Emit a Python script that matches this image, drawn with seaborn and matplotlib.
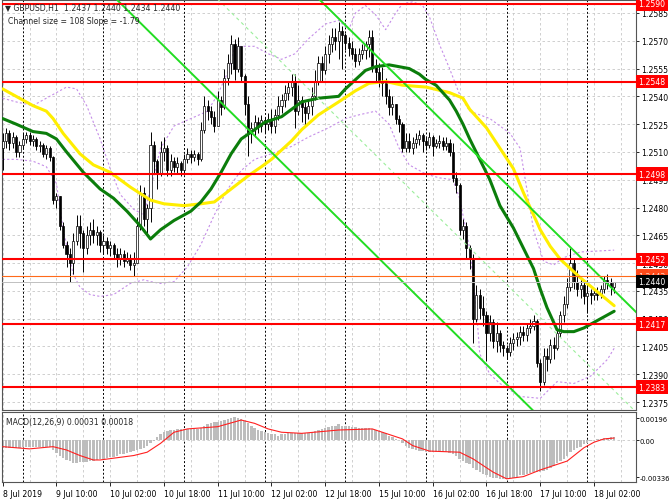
import numpy as np
import pandas as pd
import seaborn as sns
import matplotlib.pyplot as plt
import matplotlib.transforms as mtransforms

sns.set_theme(style="white")
plt.rcParams["font.family"] = ["DejaVu Sans"]

# GBPUSD H1 candles, 8 Jul 2019 18:00 -> 18 Jul 2019 08:00
first_open = 1.2512
close = [1.2516, 1.2520, 1.2515, 1.2518, 1.2510, 1.2514, 1.2517, 1.2519, 1.2516, 1.2517,
         1.2513, 1.2514, 1.2509, 1.2512, 1.2507, 1.2484, 1.2486, 1.2470, 1.2460, 1.2455,
         1.2450, 1.2462, 1.2470, 1.2466, 1.2458, 1.2465, 1.2468, 1.2465, 1.2467, 1.2460,
         1.2462, 1.2458, 1.2460, 1.2455, 1.2452, 1.2455, 1.2451, 1.2453, 1.2449, 1.2450,
         1.2470, 1.2488, 1.2474, 1.2480, 1.2514, 1.2505, 1.2498, 1.2510, 1.2512, 1.2500,
         1.2505, 1.2502, 1.2504, 1.2500, 1.2506, 1.2509, 1.2507, 1.2509, 1.2506, 1.2522,
         1.2535, 1.2532, 1.2529, 1.2524, 1.2538, 1.2534, 1.2550, 1.2558, 1.2568, 1.2555,
         1.2567, 1.2551, 1.2536, 1.2520, 1.2523, 1.2526, 1.2524, 1.2527, 1.2525, 1.2528,
         1.2524, 1.2530, 1.2535, 1.2538, 1.2542, 1.2545, 1.2548, 1.2532, 1.2538, 1.2534,
         1.2531, 1.2535, 1.2540, 1.2548, 1.2558, 1.2554, 1.2563, 1.2568, 1.2572, 1.2570,
         1.2575, 1.2573, 1.2569, 1.2566, 1.2563, 1.2559, 1.2563, 1.2565, 1.2568, 1.2572,
         1.2556, 1.2553, 1.2548, 1.2547, 1.2540, 1.2534, 1.2536, 1.2528, 1.2525, 1.2512,
         1.2516, 1.2512, 1.2515, 1.2517, 1.2519, 1.2516, 1.2514, 1.2518, 1.2513, 1.2515,
         1.2516, 1.2513, 1.2515, 1.2510, 1.2496, 1.2492, 1.2468, 1.2470, 1.2458, 1.2452,
         1.2420, 1.2433, 1.2426, 1.2422, 1.2412, 1.2418, 1.2408, 1.2412, 1.2406, 1.2404,
         1.2402, 1.2407, 1.2409, 1.2410, 1.2413, 1.2411, 1.2415, 1.2416, 1.2419, 1.2396,
         1.2386, 1.2400, 1.2398, 1.2406, 1.2404, 1.2412, 1.2422, 1.2428, 1.2437, 1.2450,
         1.2440, 1.2436, 1.2438, 1.2432, 1.2434, 1.2433, 1.2434, 1.2433, 1.2436, 1.2441,
         1.2439, 1.2437, 1.2440]
high = [1.2520, 1.2523, 1.2522, 1.2521, 1.2519, 1.2516, 1.2520, 1.2521, 1.2521, 1.2519,
        1.2518, 1.2516, 1.2515, 1.2514, 1.2513, 1.2508, 1.2488, 1.2486, 1.2472, 1.2462,
        1.2458, 1.2466, 1.2476, 1.2476, 1.2468, 1.2470, 1.2472, 1.2474, 1.2470, 1.2468,
        1.2465, 1.2464, 1.2462, 1.2461, 1.2458, 1.2458, 1.2457, 1.2456, 1.2455, 1.2456,
        1.2475, 1.2492, 1.2491, 1.2482, 1.2521, 1.2516, 1.2506, 1.2516, 1.2518, 1.2514,
        1.2509, 1.2507, 1.2507, 1.2505, 1.2509, 1.2512, 1.2511, 1.2511, 1.2510, 1.2526,
        1.2540, 1.2538, 1.2535, 1.2532, 1.2543, 1.2540, 1.2555, 1.2563, 1.2573, 1.2571,
        1.2572, 1.2560, 1.2552, 1.2540, 1.2526, 1.2530, 1.2529, 1.2530, 1.2529, 1.2531,
        1.2533, 1.2533, 1.2540, 1.2541, 1.2546, 1.2548, 1.2552, 1.2552, 1.2546, 1.2540,
        1.2537, 1.2538, 1.2545, 1.2554, 1.2562, 1.2562, 1.2567, 1.2573, 1.2577, 1.2577,
        1.2580, 1.2578, 1.2574, 1.2572, 1.2570, 1.2566, 1.2566, 1.2568, 1.2570, 1.2576,
        1.2576, 1.2560, 1.2558, 1.2556, 1.2550, 1.2544, 1.2540, 1.2536, 1.2530, 1.2526,
        1.2520, 1.2520, 1.2518, 1.2520, 1.2522, 1.2520, 1.2518, 1.2521, 1.2519, 1.2517,
        1.2519, 1.2518, 1.2518, 1.2517, 1.2515, 1.2499, 1.2493, 1.2474, 1.2472, 1.2460,
        1.2455, 1.2438, 1.2436, 1.2432, 1.2424, 1.2422, 1.2420, 1.2418, 1.2414, 1.2408,
        1.2406, 1.2410, 1.2412, 1.2413, 1.2416, 1.2416, 1.2417, 1.2420, 1.2422, 1.2420,
        1.2398, 1.2404, 1.2404, 1.2409, 1.2410, 1.2415, 1.2424, 1.2432, 1.2442, 1.2458,
        1.2452, 1.2446, 1.2442, 1.2440, 1.2438, 1.2436, 1.2436, 1.2437, 1.2438, 1.2443,
        1.2444, 1.2442, 1.2440]
low = [1.2500, 1.2512, 1.2511, 1.2512, 1.2507, 1.2507, 1.2512, 1.2515, 1.2514, 1.2513,
       1.2511, 1.2510, 1.2507, 1.2506, 1.2505, 1.2482, 1.2480, 1.2468, 1.2458, 1.2448,
       1.2440, 1.2444, 1.2460, 1.2458, 1.2445, 1.2455, 1.2460, 1.2461, 1.2460, 1.2456,
       1.2455, 1.2455, 1.2454, 1.2452, 1.2448, 1.2449, 1.2448, 1.2450, 1.2446, 1.2443,
       1.2450, 1.2468, 1.2470, 1.2466, 1.2472, 1.2498, 1.2490, 1.2497, 1.2505, 1.2497,
       1.2497, 1.2499, 1.2498, 1.2497, 1.2499, 1.2504, 1.2504, 1.2505, 1.2503, 1.2505,
       1.2520, 1.2527, 1.2525, 1.2521, 1.2524, 1.2530, 1.2533, 1.2546, 1.2552, 1.2549,
       1.2553, 1.2548, 1.2530, 1.2508, 1.2515, 1.2518, 1.2520, 1.2521, 1.2520, 1.2522,
       1.2520, 1.2520, 1.2527, 1.2531, 1.2534, 1.2538, 1.2540, 1.2523, 1.2530, 1.2526,
       1.2524, 1.2528, 1.2530, 1.2538, 1.2546, 1.2548, 1.2552, 1.2558, 1.2564, 1.2565,
       1.2560, 1.2555, 1.2565, 1.2562, 1.2560, 1.2556, 1.2557, 1.2560, 1.2560, 1.2561,
       1.2553, 1.2548, 1.2545, 1.2540, 1.2536, 1.2530, 1.2530, 1.2525, 1.2521, 1.2510,
       1.2510, 1.2510, 1.2509, 1.2512, 1.2514, 1.2510, 1.2511, 1.2512, 1.2508, 1.2512,
       1.2512, 1.2511, 1.2511, 1.2508, 1.2494, 1.2488, 1.2465, 1.2463, 1.2452, 1.2447,
       1.2407, 1.2418, 1.2420, 1.2416, 1.2397, 1.2408, 1.2404, 1.2402, 1.2402, 1.2400,
       1.2398, 1.2400, 1.2403, 1.2405, 1.2406, 1.2408, 1.2408, 1.2412, 1.2414, 1.2394,
       1.2381, 1.2384, 1.2392, 1.2396, 1.2398, 1.2403, 1.2410, 1.2418, 1.2426, 1.2435,
       1.2436, 1.2432, 1.2431, 1.2428, 1.2423, 1.2428, 1.2430, 1.2430, 1.2431, 1.2434,
       1.2436, 1.2433, 1.2434]

# moving averages (bar index, price)
ma_fast_bar = [0, 4, 9, 13, 16, 19, 24, 29, 33, 37, 41, 44, 47, 51, 56, 59, 62, 65, 68,
               71, 75, 78, 83, 86, 89, 94, 100, 102, 105, 108, 111, 115, 118, 121, 124,
               126, 129, 131, 133, 135, 137, 139, 142, 145, 148, 152, 155, 158, 160, 162,
               164, 165, 167, 170, 173, 176, 179, 182]
ma_fast = [1.2528, 1.2525, 1.2521, 1.2520, 1.2517, 1.2510, 1.2499, 1.2490, 1.2485, 1.2478,
           1.2470, 1.2463, 1.2468, 1.2473, 1.2478, 1.2483, 1.2490, 1.2499, 1.2509, 1.2517,
           1.2522, 1.2526, 1.2529, 1.2533, 1.2537, 1.2539, 1.2540, 1.2544, 1.2549, 1.2554,
           1.2556, 1.2557, 1.2556, 1.2555, 1.2552, 1.2549, 1.2546, 1.2542, 1.2538, 1.2532,
           1.2525, 1.2517, 1.2506, 1.2495, 1.2481, 1.2469, 1.2458, 1.2447, 1.2436, 1.2426,
           1.2418, 1.2414, 1.2413, 1.2413, 1.2415, 1.2418, 1.2421, 1.2424]
ma_slow_bar = [0, 4, 9, 13, 15, 18, 23, 27, 32, 38, 44, 48, 54, 59, 63, 68, 73, 77, 80,
               83, 86, 89, 94, 100, 105, 109, 114, 119, 126, 133, 137, 139, 144, 148, 152,
               155, 160, 163, 166, 169, 172, 176, 182]
ma_slow = [1.2544, 1.2540, 1.2535, 1.2532, 1.2528, 1.2520, 1.2509, 1.2503, 1.2499, 1.2491,
           1.2484, 1.2482, 1.2481, 1.2482, 1.2483, 1.2490, 1.2497, 1.2502, 1.2506, 1.2511,
           1.2516, 1.2522, 1.2530, 1.2537, 1.2543, 1.2547, 1.2548, 1.2546, 1.2545, 1.2542,
           1.2539, 1.2533, 1.2523, 1.2512, 1.2501, 1.2488, 1.2468, 1.2459, 1.2452, 1.2447,
           1.2442, 1.2436, 1.2427]

# bollinger bands (bar index, price)
bb_up_bar = [0, 4, 9, 13, 16, 19, 22, 25, 29, 32, 35, 39, 42, 44, 47, 51, 56, 61, 64,
             67, 69, 71, 75, 79, 83, 87, 91, 96, 100, 103, 105, 108, 111, 114, 117, 119,
             122, 125, 127, 130, 133, 136, 139, 145, 151, 154, 156, 158, 161, 164, 167,
             172, 182]
bb_up = [1.2539, 1.2537, 1.2535, 1.2539, 1.2542, 1.2545, 1.2544, 1.2535, 1.2517, 1.2501,
         1.2487, 1.2479, 1.2476, 1.2490, 1.2512, 1.2524, 1.2528, 1.2532, 1.2541, 1.2553,
         1.2566, 1.2567, 1.2567, 1.2563, 1.2560, 1.2563, 1.2571, 1.2579, 1.2581, 1.2576,
         1.2585, 1.2589, 1.2584, 1.2576, 1.2585, 1.2590, 1.2591, 1.2589, 1.2583, 1.2568,
         1.2555, 1.2541, 1.2532, 1.2528, 1.2520, 1.2512, 1.2490, 1.2468, 1.2451, 1.2449,
         1.2453, 1.2456, 1.2457]
bb_lo_bar = [0, 4, 9, 13, 16, 18, 21, 23, 26, 29, 33, 38, 42, 44, 47, 51, 55, 59, 63,
             67, 71, 75, 80, 86, 91, 97, 102, 106, 111, 115, 118, 121, 126, 130, 134,
             136, 139, 141, 142, 145, 148, 154, 160, 165, 170, 175, 180, 182]
bb_lo = [1.2506, 1.2506, 1.2505, 1.2502, 1.2493, 1.2468, 1.2444, 1.2437, 1.2433, 1.2432,
         1.2433, 1.2439, 1.2441, 1.2440, 1.2439, 1.2440, 1.2448, 1.2460, 1.2476, 1.2490,
         1.2500, 1.2506, 1.2509, 1.2513, 1.2518, 1.2523, 1.2528, 1.2530, 1.2532, 1.2525,
         1.2512, 1.2503, 1.2498, 1.2496, 1.2495, 1.2485, 1.2458, 1.2425, 1.2401, 1.2390,
         1.2385, 1.2378, 1.2377, 1.2386, 1.2385, 1.2389, 1.2398, 1.2404]

# MACD(12,26,9): main value per bar (grey histogram) and signal line knots
macd_main = [-0.0007, -0.0007, -0.0007, -0.0007, -0.0007, -0.0007, -0.0006, -0.0006, -0.0006, -0.0006,
             -0.0006, -0.0006, -0.0006, -0.0006, -0.0006, -0.0009, -0.0012, -0.0014, -0.0016, -0.0018,
             -0.0019, -0.0021, -0.0021, -0.0020, -0.0020, -0.0020, -0.0019, -0.0019, -0.0018, -0.0017,
             -0.0017, -0.0016, -0.0015, -0.0015, -0.0014, -0.0013, -0.0013, -0.0012, -0.0011, -0.0010,
             -0.0009, -0.0008, -0.0007, -0.0005, -0.0003, -0.0001, 0.0003, 0.0005, 0.0007, 0.0008,
             0.0009, 0.0009, 0.0010, 0.0010, 0.0010, 0.0010, 0.0010, 0.0010, 0.0010, 0.0011,
             0.0013, 0.0014, 0.0015, 0.0016, 0.0016, 0.0017, 0.0018, 0.0019, 0.0020, 0.0021,
             0.0020, 0.0019, 0.0017, 0.0015, 0.0013, 0.0011, 0.0009, 0.0008, 0.0007, 0.0006,
             0.0005, 0.0005, 0.0004, 0.0005, 0.0005, 0.0006, 0.0006, 0.0006, 0.0006, 0.0006,
             0.0006, 0.0006, 0.0007, 0.0008, 0.0009, 0.0010, 0.0011, 0.0012, 0.0013, 0.0013,
             0.0014, 0.0013, 0.0013, 0.0013, 0.0012, 0.0012, 0.0011, 0.0011, 0.0011, 0.0011,
             0.0010, 0.0009, 0.0008, 0.0007, 0.0006, 0.0004, 0.0003, 0.0001, 0.0000, -0.0003,
             -0.0005, -0.0007, -0.0008, -0.0009, -0.0010, -0.0010, -0.0011, -0.0011, -0.0011, -0.0011,
             -0.0011, -0.0011, -0.0011, -0.0012, -0.0013, -0.0014, -0.0017, -0.0019, -0.0021, -0.0022,
             -0.0025, -0.0027, -0.0029, -0.0031, -0.0032, -0.0033, -0.0034, -0.0034, -0.0035, -0.0035,
             -0.0035, -0.0034, -0.0034, -0.0033, -0.0032, -0.0032, -0.0031, -0.0030, -0.0029, -0.0029,
             -0.0029, -0.0028, -0.0027, -0.0025, -0.0023, -0.0021, -0.0019, -0.0017, -0.0014, -0.0011,
             -0.0009, -0.0007, -0.0006, -0.0004, -0.0003, -0.0001, 0.0000, 0.0001, 0.0001, 0.0002,
             0.0002, 0.0003, 0.00031]
signal_bar = [0, 8, 15, 19, 23, 27, 29, 34, 39, 43, 47, 51, 55, 64, 71, 75, 79, 83, 89,
              100, 110, 115, 119, 122, 127, 136, 140, 146, 150, 155, 160, 168, 173, 176, 179, 182]
signal = [-0.0006, -0.0008, -0.0006, -0.0009, -0.0014, -0.0018, -0.0018, -0.0016, -0.0014,
          -0.0011, -0.0003, 0.0007, 0.0010, 0.0012, 0.0018, 0.0015, 0.0010, 0.0007, 0.0006,
          0.0009, 0.0010, 0.0005, 0.0001, -0.0005, -0.0010, -0.0011, -0.0017, -0.0029, -0.0035,
          -0.0033, -0.0027, -0.0019, -0.0007, -0.0002, 0.0001, 0.00018]

# horizontal levels
levels = [1.2590, 1.2548, 1.2498, 1.2452, 1.2417, 1.2383]
orange_level = 1.2443
bid = 1.2440

# regression channel
channel_size = 108       # pips
channel_slope = -1.79    # pips per bar
channel_mid_bar = 100
channel_mid_price = 1.2528

price_ticks = [1.2585, 1.2570, 1.2555, 1.2540, 1.2525, 1.2510, 1.2495, 1.2480,
               1.2465, 1.2450, 1.2435, 1.2420, 1.2405, 1.2390, 1.2375]
macd_ticks = [0.00196, 0.0, -0.00336]
macd_tick_labels = ["0.00196", "0.00", "-0.00336"]

# bar times, weekend skipped
times = pd.date_range("2019-07-08 18:00", "2019-07-18 08:00", freq="h")
times = times[times.dayofweek < 5]

df = pd.DataFrame({"time": times, "close": close, "high": high, "low": low})
df["open"] = [first_open] + close[:-1]
df["bar"] = np.arange(len(df))
n = len(df)

W, H = 670, 502
fig = plt.figure(figsize=(W / 100, H / 100), dpi=100)
ax = fig.add_axes([2 / W, (H - 411) / H, 634 / W, 410 / H])
ax2 = fig.add_axes([2 / W, (H - 483) / H, 634 / W, 70 / H])

grid_kw = dict(color="#c8c8c8", lw=0.6, ls=(0, (3, 3)), zorder=0)
sep_kw = dict(color="black", lw=0.7, ls=(0, (2, 2)), zorder=1)

# grid and day separators
for p in price_ticks:
    ax.axhline(p, **grid_kw)
ax2.axhline(0, **grid_kw)
for b in range(0, n + 8, 8):
    ax.axvline(b, **grid_kw)
    ax2.axvline(b, **grid_kw)
for b in df.loc[df["time"].dt.hour == 0, "bar"]:
    ax.axvline(b, **sep_kw)
    ax2.axvline(b, **sep_kw)

# bollinger bands
sns.lineplot(x=bb_up_bar, y=bb_up, color="#c58ee8", lw=0.8, ls=(0, (2, 2)), ax=ax, zorder=3)
sns.lineplot(x=bb_lo_bar, y=bb_lo, color="#c58ee8", lw=0.8, ls=(0, (2, 2)), ax=ax, zorder=3)

# candles
up = df["close"] >= df["open"]
ax.vlines(df["bar"], df["low"], df["high"], color="black", lw=0.7, zorder=4)
body = (df["close"] - df["open"]).abs().clip(lower=0.00004)
ax.bar(df["bar"], body, bottom=df[["open", "close"]].min(axis=1), width=0.62,
       color=np.where(up, "white", "black"), edgecolor="black", linewidth=0.5, zorder=5)

# moving averages
sns.lineplot(x=ma_slow_bar, y=ma_slow, color="#ffee00", lw=2.2, ax=ax, zorder=6)
sns.lineplot(x=ma_fast_bar, y=ma_fast, color="#0b7d0b", lw=2.2, ax=ax, zorder=6)

# regression channel
bars = np.arange(-5, n + 10)
mid = channel_mid_price + channel_slope * 0.0001 * (bars - channel_mid_bar)
half = channel_size * 0.0001 / 2
ax.plot(bars, mid + half, color="#22dd22", lw=1.4, zorder=7)
ax.plot(bars, mid - half, color="#22dd22", lw=1.4, zorder=7)
ax.plot(bars, mid, color="#9bee9b", lw=0.8, ls=(0, (3, 3)), zorder=7)

# levels
for lv in levels:
    ax.axhline(lv, color="#ff0000", lw=1.5, zorder=8)
ax.axhline(orange_level, color="#ff6a1a", lw=0.8, zorder=8)
ax.axhline(bid, color="#c0c0c0", lw=0.7, zorder=8)

ax.set_xlim(-0.2, 188.5)
ax.set_ylim(1.23707, 1.25920)
ax.yaxis.tick_right()
ax.set_yticks(price_ticks)
ax.set_yticklabels([f"{p:.4f}" for p in price_ticks])
ax.tick_params(axis="y", length=2.5, width=0.6, pad=1.5, labelsize=5.6, colors="black")
ax.tick_params(axis="x", length=0, labelbottom=False)

trans = mtransforms.blended_transform_factory(ax.transAxes, ax.transData)
box_kw = dict(transform=trans, fontsize=5.6, va="center", ha="left", clip_on=False, zorder=20)
for lv in levels:
    ax.text(1.004, lv, f"{lv:.4f}", color="white",
            bbox=dict(boxstyle="square,pad=0.3", fc="#ff0000", ec="none"), **box_kw)
ax.text(1.004, orange_level, f"{orange_level:.4f}", color="#ffd0c0",
        bbox=dict(boxstyle="square,pad=0.3", fc="#ff4a1a", ec="none"), **box_kw)
ax.text(1.004, bid, f"{bid:.4f}", color="white",
        bbox=dict(boxstyle="square,pad=0.3", fc="black", ec="none"), **box_kw)

# MACD panel
ax2.bar(df["bar"], macd_main, width=0.72, color="#bdbdbd", edgecolor="none", linewidth=0, zorder=2)
sns.lineplot(x=signal_bar, y=signal, color="#ff2020", lw=0.8, ax=ax2, zorder=3)
ax2.set_xlim(-0.2, 188.5)
ax2.set_ylim(-0.003787, 0.002525)
ax2.yaxis.tick_right()
ax2.set_yticks(macd_ticks)
ax2.set_yticklabels(macd_tick_labels)
ax2.tick_params(axis="y", length=2, width=0.6, pad=0.6, labelsize=4.9, colors="black")

label_bars = list(range(0, n, 16))
labels = []
for b in label_bars:
    t = df["time"][b]
    labels.append(f"{t.day} Jul 2019" if b == 0 else f"{t.day} {t.strftime('%b %H:%M')}")
ax2.set_xticks(label_bars)
ax2.set_xticklabels(labels, ha="left")
ax2.tick_params(axis="x", length=3, width=0.6, pad=2, labelsize=5.6, colors="black", bottom=True)
ax2.set_xlabel("")
ax2.set_ylabel("")
ax2.text(0.006, 0.86, "MACD(12,26,9) 0.00031 0.00018", transform=ax2.transAxes,
         fontsize=5.6, va="center", ha="left")

for a in (ax, ax2):
    for s in a.spines.values():
        s.set_color("#555555")
        s.set_linewidth(0.8)

# header
fig.text(5 / W, 1 - 9 / H, "\u25bc GBPUSD,H1  1.2437 1.2440 1.2434 1.2440",
         fontsize=5.6, va="center", ha="left")
fig.text(8 / W, 1 - 21 / H, "Channel size = 108 Slope = -1.79",
         fontsize=5.6, va="center", ha="left")

fig.savefig("out.png", dpi=100)
